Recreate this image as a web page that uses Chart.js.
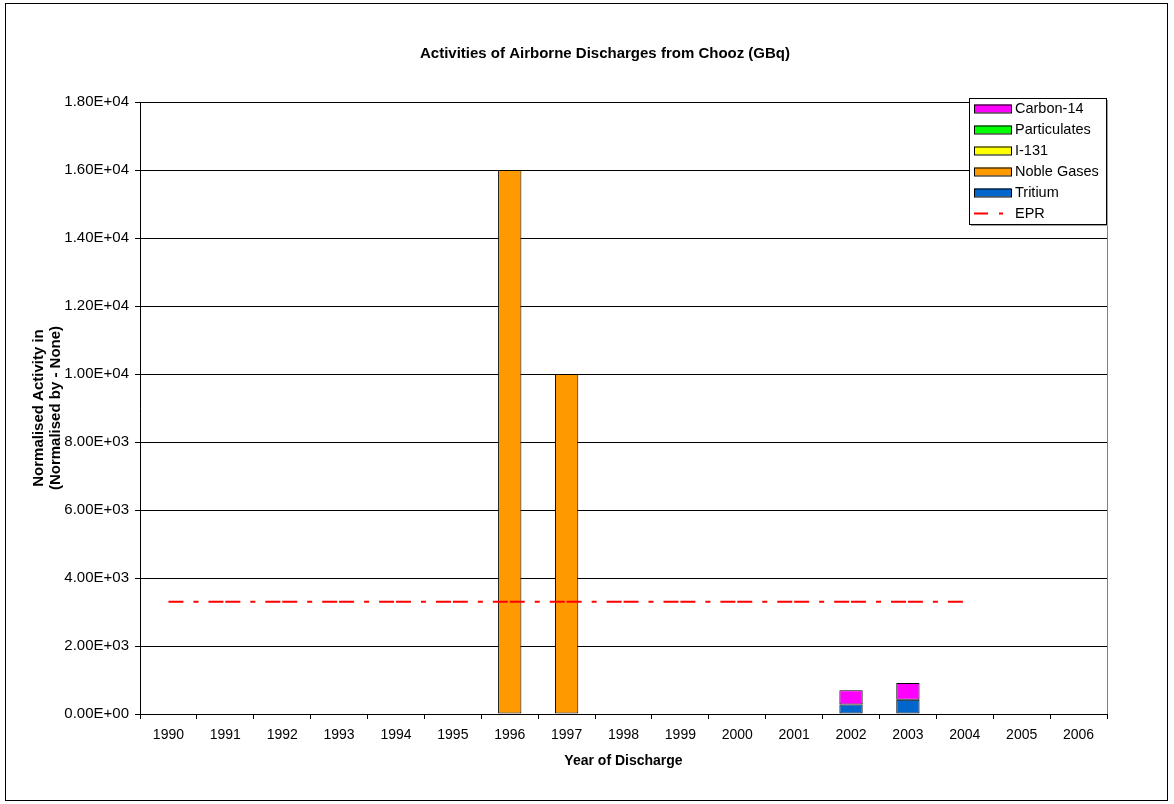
<!DOCTYPE html>
<html>
<head>
<meta charset="utf-8">
<title>Activities of Airborne Discharges from Chooz (GBq)</title>
<script src="https://cdn.jsdelivr.net/npm/chart.js@4.4.1/dist/chart.umd.min.js"></script>
<style>
  html, body { margin: 0; padding: 0; background: #fff; }
  #wrap { position: relative; width: 1174px; height: 804px; }
</style>
</head>
<body>
<div id="wrap"><canvas id="chooz" width="1174" height="804"></canvas></div>
<script>
// years on the category axis
const years = ['1990', '1991', '1992', '1993', '1994', '1995', '1996', '1997', '1998',
               '1999', '2000', '2001', '2002', '2003', '2004', '2005', '2006'];

// discharges per nuclide group (GBq), empty years left as null
const tritium      = [null, null, null, null, null, null, null, null, null, null, null, null, 280, 420, null, null, null];
const nobleGases   = [null, null, null, null, null, null, 16000, 10000, null, null, null, null, null, null, null, null, null];
const iodine131    = [null, null, null, null, null, null, null, null, null, null, null, null, null, null, null, null, null];
const particulates = [null, null, null, null, null, null, null, null, null, null, null, null, null, null, null, null, null];
const carbon14     = [null, null, null, null, null, null, null, null, null, null, null, null, 420, 490, null, null, null];

// EPR reference level
const epr = [3300, 3300, 3300, 3300, 3300, 3300, 3300, 3300, 3300, 3300, 3300, 3300, 3300, 3300, 3300, null, null];

const FONT = 'Arial, "Liberation Sans", Helvetica, sans-serif';
const EPR_DASH = [15, 10, 5, 10];
const dashPeriod = EPR_DASH.reduce((a, b) => a + b, 0);

// 1.80E+04 style labels
function sci(v) {
    if (v === 0) return '0.00E+00';
    const exp = Math.floor(Math.log10(Math.abs(v)));
    const mant = v / Math.pow(10, exp);
    const sign = exp < 0 ? '-' : '+';
    return mant.toFixed(2) + 'E' + sign + String(Math.abs(exp)).padStart(2, '0');
}

// page frame, plot border and chart title
const framePlugin = {
    id: 'frame',
    beforeDraw(chart) {
        const ctx = chart.ctx;
        const a = chart.chartArea;
        ctx.save();
        ctx.fillStyle = '#fff';
        ctx.fillRect(0, 0, chart.width, chart.height);
        ctx.strokeStyle = '#000';
        ctx.lineWidth = 1;
        ctx.strokeRect(5.5, 3.5, 1162, 797);
        ctx.strokeStyle = '#808080';
        ctx.strokeRect(a.left + 0.5, a.top + 0.5, a.right - a.left, a.bottom - a.top);
        ctx.restore();
    },
    afterDraw(chart) {
        const ctx = chart.ctx;
        ctx.save();
        ctx.fillStyle = '#000';
        ctx.font = 'bold 15px ' + FONT;
        ctx.textAlign = 'center';
        ctx.textBaseline = 'middle';
        ctx.fillText('Activities of Airborne Discharges from Chooz (GBq)', 605, 54);
        ctx.restore();
    }
};

// boxed legend sitting in the top right corner of the plot
const boxLegend = {
    id: 'boxLegend',
    afterDraw(chart) {
        const ctx = chart.ctx;
        const a = chart.chartArea;
        const items = chart.data.datasets.slice().reverse();
        const w = 137, rowH = 21;
        const h = items.length * rowH;
        const x = a.right - w - 1, y = a.top - 4;
        ctx.save();
        ctx.fillStyle = '#a0a0a0';
        ctx.fillRect(x + 2, y + 2, w, h);
        ctx.fillStyle = '#fff';
        ctx.fillRect(x, y, w, h);
        ctx.strokeStyle = '#000';
        ctx.lineWidth = 1;
        ctx.strokeRect(x + 0.5, y + 0.5, w, h);
        ctx.font = '14.5px ' + FONT;
        ctx.textBaseline = 'middle';
        items.forEach((ds, i) => {
            const cy = y + 10.5 + i * rowH;
            if (ds.type === 'line') {
                ctx.strokeStyle = ds.borderColor;
                ctx.lineWidth = 2;
                ctx.setLineDash([14, 11, 4, 50]);
                ctx.beginPath();
                ctx.moveTo(x + 5, cy);
                ctx.lineTo(x + 42, cy);
                ctx.stroke();
                ctx.setLineDash([]);
            } else {
                ctx.fillStyle = ds.backgroundColor;
                ctx.fillRect(x + 5, cy - 4, 37, 8);
                ctx.strokeStyle = '#000';
                ctx.lineWidth = 1;
                ctx.strokeRect(x + 5.5, cy - 3.5, 37, 8);
            }
            ctx.fillStyle = '#000';
            ctx.fillText(ds.label, x + 46, cy + 0.5);
        });
        ctx.restore();
    }
};

function barSet(label, data, color) {
    return {
        type: 'bar',
        label: label,
        data: data,
        backgroundColor: color,
        borderColor: '#000',
        borderWidth: 1,
        borderSkipped: false,
        categoryPercentage: 1,
        barPercentage: 0.41,
        order: 1
    };
}

new Chart(document.getElementById('chooz'), {
    data: {
        labels: years,
        datasets: [
            {
                type: 'line',
                label: 'EPR',
                data: epr,
                borderColor: '#FF0000',
                backgroundColor: '#FF0000',
                borderWidth: 2,
                borderDash: EPR_DASH,
                borderCapStyle: 'butt',
                pointRadius: 0,
                pointHoverRadius: 0,
                fill: false,
                tension: 0,
                order: 0,
                // restart the dash pattern on every year-to-year segment
                segment: { borderDashOffset: ctx => ctx.p0DataIndex * dashPeriod }
            },
            barSet('Tritium', tritium, '#0066CC'),
            barSet('Noble Gases', nobleGases, '#FF9900'),
            barSet('I-131', iodine131, '#FFFF00'),
            barSet('Particulates', particulates, '#00FF00'),
            barSet('Carbon-14', carbon14, '#FF00FF')
        ]
    },
    options: {
        responsive: false,
        animation: false,
        devicePixelRatio: 1,
        layout: { padding: { top: 102, right: 67, bottom: 0, left: 0 } },
        plugins: {
            legend: { display: false },
            title: { display: false },
            tooltip: { enabled: false }
        },
        scales: {
            x: {
                stacked: true,
                offset: true,
                grid: {
                    offset: true,
                    drawOnChartArea: false,
                    drawTicks: true,
                    tickLength: 5,
                    color: '#000'
                },
                border: { color: '#000', width: 1 },
                ticks: {
                    color: '#000',
                    font: { family: FONT, size: 14 },
                    padding: 8,
                    maxRotation: 0,
                    autoSkip: false
                },
                title: {
                    display: true,
                    text: 'Year of Discharge',
                    color: '#000',
                    font: { family: FONT, size: 14, weight: 'bold' },
                    padding: { top: 0, bottom: 34 }
                },
                afterFit(scale) { scale.height = 90; }
            },
            y: {
                stacked: true,
                min: 0,
                max: 18000,
                grid: {
                    color: '#000',
                    lineWidth: 1,
                    drawTicks: true,
                    tickLength: 5
                },
                border: { color: '#000', width: 1 },
                ticks: {
                    stepSize: 2000,
                    color: '#000',
                    font: { family: FONT, size: 15 },
                    padding: 6,
                    callback: v => sci(v)
                },
                title: {
                    display: true,
                    text: ['Normalised Activity in', '(Normalised by - None)'],
                    color: '#000',
                    font: { family: FONT, size: 15, weight: 'bold', lineHeight: 1.13 },
                    padding: { top: 30, bottom: 0 }
                },
                afterFit(scale) { scale.width = 140; }
            }
        }
    },
    plugins: [framePlugin, boxLegend]
});
</script>
</body>
</html>
